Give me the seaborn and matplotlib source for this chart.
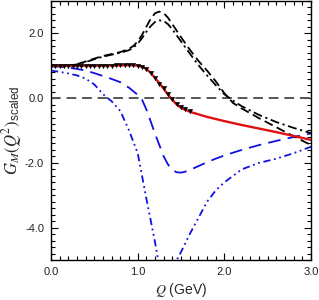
import numpy as np
import pandas as pd
import matplotlib
matplotlib.use("Agg")
import matplotlib.pyplot as plt
import seaborn as sns
from matplotlib.ticker import MultipleLocator

# ---- data ----
q_red = [0.0, 0.2, 0.4, 0.6, 0.8, 0.9, 1.0, 1.05, 1.1, 1.15, 1.2, 1.25, 1.3, 1.35, 1.4,
         1.45, 1.5, 1.6, 1.7, 1.8, 2.0, 2.2, 2.4, 2.6, 2.8, 3.0]
g_red = [1.0, 1.0, 1.0, 1.0, 1.01, 1.02, 1.0, 0.97, 0.9, 0.78, 0.62, 0.46, 0.29, 0.1, -0.05,
         -0.2, -0.3, -0.42, -0.5, -0.58, -0.71, -0.83, -0.94, -1.05, -1.17, -1.29]

q_data = [0.0, 0.05, 0.1, 0.15, 0.2, 0.25, 0.3, 0.35, 0.4, 0.45, 0.5, 0.55, 0.6, 0.65, 0.7,
          0.75, 0.8, 0.85, 0.9, 0.95, 1.0, 1.05, 1.1, 1.15, 1.2, 1.25, 1.3, 1.35, 1.4, 1.45,
          1.5, 1.55, 1.6]
g_data = [1.0, 1.0, 0.99, 1.0, 1.0, 0.99, 1.0, 0.99, 0.99, 1.0, 0.99, 1.0, 0.99, 1.0, 1.0,
          1.01, 1.01, 1.02, 1.02, 1.01, 1.0, 0.96, 0.9, 0.77, 0.62, 0.45, 0.3, 0.12, -0.04, -0.18,
          -0.28, -0.35, -0.41]

q_kdash = [0.0, 0.2, 0.3, 0.4, 0.5, 0.6, 0.7, 0.8, 0.9, 0.95, 1.0, 1.05, 1.1, 1.15, 1.2, 1.25, 1.3,
           1.35, 1.4, 1.5, 1.6, 1.7, 1.8, 1.9, 2.0, 2.1, 2.2, 2.4, 2.6, 2.8, 3.0]
g_kdash = [1.0, 1.0, 1.05, 1.13, 1.22, 1.3, 1.36, 1.42, 1.52, 1.61, 1.75, 1.95, 2.2, 2.45, 2.62, 2.67,
           2.62, 2.48, 2.28, 1.88, 1.5, 1.15, 0.85, 0.52, 0.15, -0.15, -0.32, -0.62, -0.9, -1.18, -1.45]

q_kdd = [0.0, 0.2, 0.3, 0.4, 0.5, 0.6, 0.7, 0.8, 0.9, 0.95, 1.0, 1.05, 1.1, 1.15, 1.2, 1.25, 1.3,
         1.35, 1.4, 1.5, 1.6, 1.7, 1.8, 1.9, 2.0, 2.1, 2.2, 2.4, 2.6, 2.8, 3.0]
g_kdd = [1.0, 1.0, 1.04, 1.11, 1.2, 1.28, 1.34, 1.4, 1.48, 1.56, 1.68, 1.85, 2.05, 2.22, 2.35, 2.4,
         2.38, 2.28, 2.12, 1.75, 1.38, 1.02, 0.7, 0.4, 0.12, -0.08, -0.25, -0.52, -0.74, -0.92, -1.08]

q_bdash = [0.0, 0.1, 0.2, 0.3, 0.4, 0.5, 0.6, 0.7, 0.8, 0.9, 1.0, 1.05, 1.1, 1.15, 1.2, 1.25,
           1.3, 1.35, 1.4, 1.45, 1.5, 1.55, 1.6, 1.7, 1.8, 1.9, 2.0, 2.2, 2.4, 2.6, 2.8, 3.0]
g_bdash = [0.98, 0.97, 0.94, 0.9, 0.85, 0.77, 0.68, 0.59, 0.49, 0.32, 0.1, -0.05, -0.35, -0.72,
           -1.1, -1.45, -1.8, -2.05, -2.22, -2.29, -2.3, -2.27, -2.22, -2.1, -1.98, -1.87, -1.77,
           -1.6, -1.45, -1.32, -1.2, -1.09]

q_bddd = [0.0, 0.1, 0.2, 0.3, 0.4, 0.5, 0.6, 0.7, 0.8, 0.9, 1.0, 1.1, 1.2, 1.25, 1.3, 1.35,
          1.4, 1.45, 1.5, 1.6, 1.7, 1.8, 1.9, 2.0, 2.2, 2.4, 2.6, 2.8, 3.0]
g_bddd = [0.85, 0.81, 0.76, 0.7, 0.6, 0.42, 0.12, -0.1, -0.4, -1.0, -1.7, -3.1, -4.45, -5.2,
          -6.0, -6.2, -5.8, -5.0, -4.75, -4.2, -3.7, -3.2, -2.85, -2.6, -2.2, -2.0, -1.87, -1.7, -1.5]

x_ticks = [0.0, 1.0, 2.0, 3.0]
y_ticks = [-4.0, -2.0, 0.0, 2.0]

# ---- figure ----
sns.set_style("ticks")
plt.rcParams['font.family'] = ['Liberation Sans', 'DejaVu Sans']
plt.rcParams['mathtext.fontset'] = 'custom'
plt.rcParams['mathtext.rm'] = 'STIXGeneral'
plt.rcParams['mathtext.it'] = 'STIXGeneral:italic'
plt.rcParams['mathtext.sf'] = 'Liberation Sans'

fig = plt.figure(figsize=(3.19, 3.00), dpi=100)
ax = fig.add_axes([0.16, 0.133, 0.815, 0.864])

ax.axhline(0.0, color="#555555", lw=1.4, zorder=1)
ax.lines[-1].set_dashes([5, 3])

def draw(q, g, color, lw, dashes=None, z=2):
    sns.lineplot(x=q, y=g, ax=ax, color=color, lw=lw, sort=False, zorder=z)
    if dashes is not None:
        ax.lines[-1].set_dashes(dashes)

draw(q_bddd, g_bddd, "#1010e0", 1.3, [4, 2, 1, 2, 1, 2])
draw(q_bdash, g_bdash, "#1010e0", 1.3, [7, 4])
draw(q_kdd, g_kdd, "black", 1.3, [5, 2, 1.2, 2])
draw(q_kdash, g_kdash, "black", 1.3, [5, 2.5])
draw(q_red, g_red, "#e01010", 1.7, None, z=3)
sns.scatterplot(x=q_data, y=g_data, ax=ax, color="black", marker="v", s=10,
                edgecolor="black", linewidth=0.3, zorder=4)

ax.set_xlim(0, 3.0)
ax.set_ylim(-5.0, 3.0)
ax.set_xticks(x_ticks)
ax.set_yticks(y_ticks)
ax.set_xticklabels([f"{v:.1f}" for v in x_ticks])
ax.set_yticklabels([f"{v:.1f}" for v in y_ticks])
ax.xaxis.set_minor_locator(MultipleLocator(0.1))
ax.yaxis.set_minor_locator(MultipleLocator(0.2))
ax.tick_params(which="both", direction="in", top=True, right=True, width=0.8, colors="black",
               labelsize=8, labelcolor="#222222")
ax.tick_params(which="major", length=5, pad=5)
ax.tick_params(which="minor", length=3)
for s in ax.spines.values():
    s.set_linewidth(1.0)
    s.set_color("black")

ax.set_xlabel(r"$Q$ (GeV)", fontsize=10, labelpad=3)
ax.set_ylabel(r"$G_M(Q^2)_{\mathsf{scaled}}$", fontsize=12, labelpad=1)

fig.savefig("out.png", dpi=100)
